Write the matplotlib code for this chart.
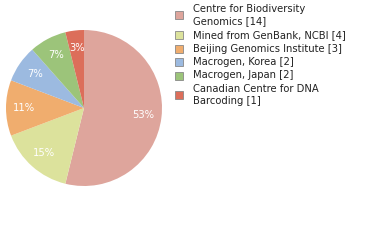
import matplotlib
matplotlib.use("Agg")
import matplotlib.pyplot as plt
from matplotlib.patches import Rectangle
import numpy as np

labels = ["Centre for Biodiversity\nGenomics [14]", "Mined from GenBank, NCBI [4]",
          "Beijing Genomics Institute [3]", "Macrogen, Korea [2]",
          "Macrogen, Japan [2]", "Canadian Centre for DNA\nBarcoding [1]"]
values = [14, 4, 3, 2, 2, 1]
pcts = ["53%", "15%", "11%", "7%", "7%", "3%"]
colors = ["#dea59c", "#dce29c", "#f0ad6e", "#9cbae0", "#9cc47a", "#dc6e5a"]

W, H = 380, 240
fig = plt.figure(figsize=(3.8, 2.4), dpi=100)
cx, cy, r = 84, 108, 78
ax = fig.add_axes([(cx - r) / W, (H - cy - r) / H, 2 * r / W, 2 * r / H])
wedges, _ = ax.pie(values, colors=colors, startangle=90, counterclock=False,
                   wedgeprops=dict(linewidth=0))
for w, p in zip(wedges, pcts):
    ang = np.deg2rad((w.theta1 + w.theta2) / 2)
    ax.text(0.77 * np.cos(ang), 0.77 * np.sin(ang), p, ha="center", va="center",
            color="white", fontsize=7.2)
ax.set_xlim(-1, 1)
ax.set_ylim(-1, 1)
ax.set_aspect("auto")

y = 9
for lab, c in zip(labels, colors):
    nlines = lab.count("\n") + 1
    ymid = y + (nlines - 1) * 12.5 / 2
    fig.patches.append(Rectangle((175 / W, 1 - (ymid + 4) / H), 8 / W, 8 / H,
                                 facecolor=c, edgecolor="#888888", linewidth=0.6,
                                 transform=fig.transFigure))
    parts = lab.split("\n")
    for i, part in enumerate(parts):
        fig.text(193 / W, 1 - (y + 12.5 * i) / H, part, fontsize=7.2, va="center",
                 color="#222222")
    y += 12.5 * (nlines - 1) + 13.5
fig.savefig("out.png", dpi=100)
